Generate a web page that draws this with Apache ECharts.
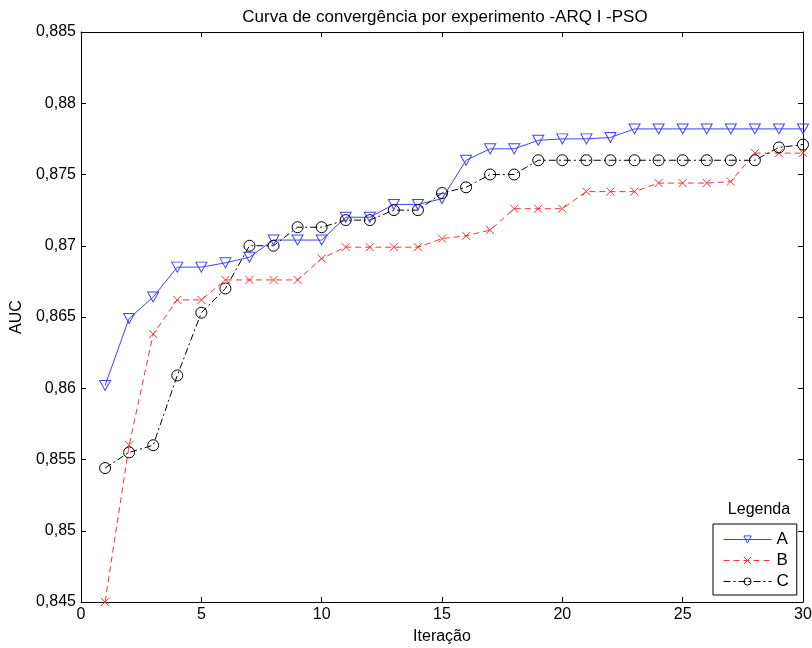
<!DOCTYPE html>
<html>
<head>
<meta charset="utf-8">
<script src="https://cdn.jsdelivr.net/npm/echarts@6/dist/echarts.min.js"></script>
<style>
html,body{margin:0;padding:0;background:#fff;}
#chart{width:812px;height:648px;}
</style>
</head>
<body>
<div id="chart"></div>
<script>
const iterations = [1,2,3,4,5,6,7,8,9,10,11,12,13,14,15,16,17,18,19,20,21,22,23,24,25,26,27,28,29,30];
const seriesA = [0.8602,0.8649,0.8664,0.8685,0.8685,0.8688,0.8692,0.8704,0.8704,0.8704,0.8720,0.8720,0.8729,0.8729,0.8733,0.8760,0.8768,0.8768,0.8774,0.8775,0.8775,0.8776,0.8782,0.8782,0.8782,0.8782,0.8782,0.8782,0.8782,0.8782];
const seriesB = [0.8450,0.8560,0.8638,0.8662,0.8662,0.8676,0.8676,0.8676,0.8676,0.8691,0.8699,0.8699,0.8699,0.8699,0.8705,0.8707,0.8711,0.8726,0.8726,0.8726,0.8738,0.8738,0.8738,0.8744,0.8744,0.8744,0.8745,0.8765,0.8765,0.8765];
const seriesC = [0.8544,0.8555,0.8560,0.8609,0.8653,0.8670,0.8700,0.8700,0.8713,0.8713,0.8718,0.8718,0.8725,0.8725,0.8737,0.8741,0.8750,0.8750,0.8760,0.8760,0.8760,0.8760,0.8760,0.8760,0.8760,0.8760,0.8760,0.8760,0.8769,0.8771];
const seriesNames = ['A','B','C'];
const xTicks = [0,5,10,15,20,25,30];
const yTicks = [0.845,0.85,0.855,0.86,0.865,0.87,0.875,0.88,0.885];

const FONT = 'Liberation Sans, Arial, sans-serif';
const FS = 16;
const pair = (vals) => iterations.map((x,i)=>[x, vals[i]]);
const xMark = 'path://M0,0L10,10M10,0L0,10';

const chart = echarts.init(document.getElementById('chart'), null, {renderer:'canvas'});
const axisLineStyle = {color:'#000', width:1};
chart.setOption({
  animation:false,
  backgroundColor:'#fff',
  textStyle:{fontFamily:FONT},
  title:[{
    text:'Curva de convergência por experimento -ARQ I -PSO',
    left:440, top:4, textAlign:'center',
    textStyle:{fontFamily:FONT, fontSize:17, fontWeight:'normal', color:'#000'}
  },{
    text:'Legenda',
    left:754, top:497, textAlign:'center',
    textStyle:{fontFamily:FONT, fontSize:FS, fontWeight:'normal', color:'#000'}
  }],
  legend:{
    data:seriesNames,
    orient:'vertical',
    left:713, top:524,
    padding:[7,8,5,10],
    itemWidth:48, itemHeight:9, itemGap:4,
    borderColor:'#000', borderWidth:1,
    backgroundColor:'#fff',
    lineStyle:{width:1},
    itemStyle:{borderWidth:1, color:'rgba(0,0,0,0)'},
    textStyle:{fontFamily:FONT, fontSize:FS+1, color:'#000', padding:[0,0,0,0]}
  },
  grid:{left:81, right:9, top:32, bottom:46, containLabel:false, outerBoundsMode:'none'},
  xAxis:[{
    type:'value', min:0, max:30, interval:5,
    name:'Iteração', nameLocation:'middle', nameGap:27,
    nameTextStyle:{fontFamily:FONT, fontSize:FS, color:'#000'},
    axisLine:{show:true, lineStyle:axisLineStyle},
    axisTick:{show:true, inside:true, length:5, lineStyle:axisLineStyle},
    axisLabel:{fontFamily:FONT, fontSize:FS, color:'#000', margin:5,
      formatter:(v)=> xTicks.includes(v) ? String(v) : ''},
    splitLine:{show:false}
  },{
    type:'value', min:0, max:30, interval:5, position:'top',
    axisLine:{show:true, onZero:false, lineStyle:axisLineStyle},
    axisTick:{show:true, inside:true, length:5, lineStyle:axisLineStyle},
    axisLabel:{show:false}, splitLine:{show:false}
  }],
  yAxis:[{
    type:'value', min:0.845, max:0.885, interval:0.005,
    name:'AUC', nameLocation:'middle', nameGap:55, nameRotate:90,
    nameTextStyle:{fontFamily:FONT, fontSize:FS, color:'#000'},
    axisLine:{show:true, lineStyle:axisLineStyle},
    axisTick:{show:true, inside:true, length:5, lineStyle:axisLineStyle},
    axisLabel:{fontFamily:FONT, fontSize:FS, color:'#000', margin:5,
      formatter:(v)=> v.toFixed(3).replace('.', ',').replace(/0+$/,'').replace(/,$/,'')},
    splitLine:{show:false}
  },{
    type:'value', min:0.845, max:0.885, interval:0.005, position:'right',
    axisLine:{show:true, onZero:false, lineStyle:axisLineStyle},
    axisTick:{show:true, inside:true, length:5, lineStyle:axisLineStyle},
    axisLabel:{show:false}, splitLine:{show:false}
  }],
  series:[{
    name:'A', type:'line', data:pair(seriesA),
    symbol:'triangle', symbolRotate:180, symbolSize:[11,10], showAllSymbol:true,
    lineStyle:{color:'#4040ff', width:1, type:'solid'},
    itemStyle:{color:'rgba(0,0,0,0)', borderColor:'#4040ff', borderWidth:1}
  },{
    name:'B', type:'line', data:pair(seriesB),
    symbol:xMark, symbolSize:8, showAllSymbol:true,
    lineStyle:{color:'#ff3030', width:1, type:[6,4]},
    itemStyle:{color:'rgba(0,0,0,0)', borderColor:'#ff3030', borderWidth:1}
  },{
    name:'C', type:'line', data:pair(seriesC),
    symbol:'circle', symbolSize:11, showAllSymbol:true,
    lineStyle:{color:'#000', width:1, type:[7,3,2,3]},
    itemStyle:{color:'rgba(0,0,0,0)', borderColor:'#000', borderWidth:1}
  }]
});
</script>
</body>
</html>
